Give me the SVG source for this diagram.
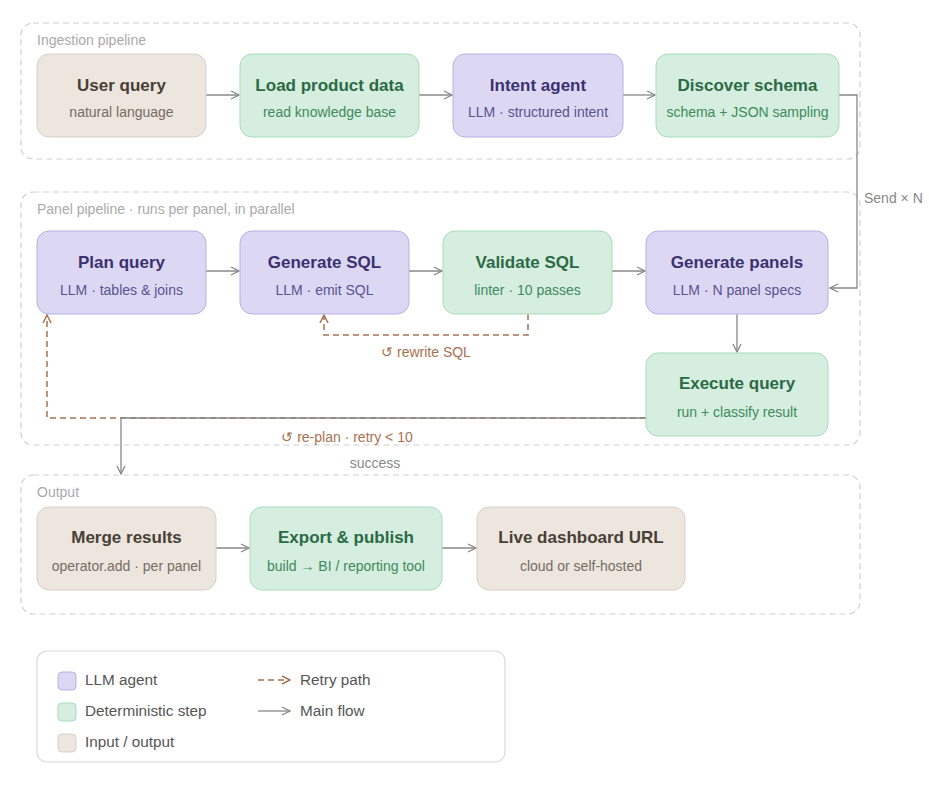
<svg xmlns="http://www.w3.org/2000/svg" width="929" height="795" viewBox="0 0 929 795">
<defs>
<marker id="ah" viewBox="0 0 10 10" refX="9" refY="5" markerWidth="10" markerHeight="10" markerUnits="userSpaceOnUse" orient="auto">
<path d="M1,1 L9,5 L1,9" fill="none" stroke="#888" stroke-width="1.3"/>
</marker>
<marker id="ahr" viewBox="0 0 10 10" refX="9" refY="5" markerWidth="10" markerHeight="10" markerUnits="userSpaceOnUse" orient="auto">
<path d="M1,1 L9,5 L1,9" fill="none" stroke="#a8724f" stroke-width="1.5"/>
</marker>
</defs>
<style>
text{font-family:"Liberation Sans",Arial,sans-serif}
.cl{fill:none;stroke:#d0d0d0;stroke-width:1.2;stroke-dasharray:6 4}
.clt{font-size:14px;fill:#aaa}
.llm rect{fill:#dcd8f4;stroke:#b7b0e6;stroke-width:1}
.llm .t{fill:#3b3170}
.llm .s{fill:#5a5290}
.det rect{fill:#d5eedf;stroke:#a8dcbb;stroke-width:1}
.det .t{fill:#2c6a46}
.det .s{fill:#3f8a5c}
.io rect{fill:#ece6df;stroke:#d8d0c6;stroke-width:1}
.io .t{fill:#4a3f35}
.io .s{fill:#776c62}
.t{font-size:17px;font-weight:bold;text-anchor:middle}
.s{font-size:14px;text-anchor:middle}
.m{fill:none;stroke:#888;stroke-width:1.3}
.r{fill:none;stroke:#a8724f;stroke-width:1.5;stroke-dasharray:6 4}
.lt{font-size:14px;text-anchor:middle}
.lg{font-size:15.3px;fill:#555}
</style>
<rect width="929" height="795" fill="#fff"/>
<g id="clusters">
<rect class="cl" x="21" y="23" width="839" height="136" rx="12"/>
<text class="clt" x="37" y="45">Ingestion pipeline</text>
<rect class="cl" x="21" y="192" width="839" height="253" rx="12"/>
<text class="clt" x="37" y="214">Panel pipeline · runs per panel, in parallel</text>
<rect class="cl" x="21" y="475" width="839" height="139" rx="12"/>
<text class="clt" x="37" y="497">Output</text>
</g>
<g id="connectors">
<path class="m" d="M206,95 H239" marker-end="url(#ah)"/>
<path class="m" d="M419,95 H452" marker-end="url(#ah)"/>
<path class="m" d="M623,95 H655" marker-end="url(#ah)"/>
<path class="m" d="M839,95 H857 V288 H830" marker-end="url(#ah)"/>
<text x="864" y="203" font-size="14" fill="#888">Send × N</text>
<path class="m" d="M206,271 H239" marker-end="url(#ah)"/>
<path class="m" d="M409,271 H442" marker-end="url(#ah)"/>
<path class="m" d="M612,271 H645" marker-end="url(#ah)"/>
<path class="m" d="M737,314 V352" marker-end="url(#ah)"/>
<path class="r" d="M528,314 V335 H324 V315" marker-end="url(#ahr)"/>
<text class="lt" x="426" y="357" fill="#a8724f">↺ rewrite SQL</text>
<path class="r" d="M646,418 H47 V315" marker-end="url(#ahr)"/>
<text class="lt" x="347" y="442" fill="#a8724f">↺ re-plan · retry &lt; 10</text>
<path class="m" d="M646,418 H121 V474" marker-end="url(#ah)"/>
<text class="lt" x="375" y="468" fill="#888">success</text>
<path class="m" d="M216,548 H249" marker-end="url(#ah)"/>
<path class="m" d="M442,548 H476" marker-end="url(#ah)"/>
</g>
<g id="user-query" class="io"><rect x="37" y="54" width="169" height="83" rx="12"/><text class="t" x="121.5" y="91">User query</text><text class="s" x="121.5" y="117">natural language</text></g>
<g id="load-product-data" class="det"><rect x="240" y="54" width="179" height="83" rx="12"/><text class="t" x="329.5" y="91">Load product data</text><text class="s" x="329.5" y="117">read knowledge base</text></g>
<g id="intent-agent" class="llm"><rect x="453" y="54" width="170" height="83" rx="12"/><text class="t" x="538" y="91">Intent agent</text><text class="s" x="538" y="117">LLM · structured intent</text></g>
<g id="discover-schema" class="det"><rect x="656" y="54" width="183" height="83" rx="12"/><text class="t" x="747.5" y="91">Discover schema</text><text class="s" x="747.5" y="117">schema + JSON sampling</text></g>
<g id="plan-query" class="llm"><rect x="37" y="231" width="169" height="83" rx="12"/><text class="t" x="121.5" y="268">Plan query</text><text class="s" x="121.5" y="295">LLM · tables &amp; joins</text></g>
<g id="generate-sql" class="llm"><rect x="240" y="231" width="169" height="83" rx="12"/><text class="t" x="324.5" y="268">Generate SQL</text><text class="s" x="324.5" y="295">LLM · emit SQL</text></g>
<g id="validate-sql" class="det"><rect x="443" y="231" width="169" height="83" rx="12"/><text class="t" x="527.5" y="268">Validate SQL</text><text class="s" x="527.5" y="295">linter · 10 passes</text></g>
<g id="generate-panels" class="llm"><rect x="646" y="231" width="182" height="83" rx="12"/><text class="t" x="737" y="268">Generate panels</text><text class="s" x="737" y="295">LLM · N panel specs</text></g>
<g id="execute-query" class="det"><rect x="646" y="353" width="182" height="83" rx="12"/><text class="t" x="737" y="389">Execute query</text><text class="s" x="737" y="417">run + classify result</text></g>
<g id="merge-results" class="io"><rect x="37" y="507" width="179" height="83" rx="12"/><text class="t" x="126.5" y="543">Merge results</text><text class="s" x="126.5" y="571">operator.add · per panel</text></g>
<g id="export-publish" class="det"><rect x="250" y="507" width="192" height="83" rx="12"/><text class="t" x="346" y="543">Export &amp; publish</text><text class="s" x="346" y="571">build → BI / reporting tool</text></g>
<g id="live-dashboard" class="io"><rect x="477" y="507" width="208" height="83" rx="12"/><text class="t" x="581" y="543">Live dashboard URL</text><text class="s" x="581" y="571">cloud or self-hosted</text></g>
<g id="legend">
<rect x="37" y="651" width="468" height="111" rx="10" fill="#fff" stroke="#d8d8d8" stroke-width="1.2"/>
<rect x="58" y="672" width="18" height="18" rx="4" fill="#dcd8f4" stroke="#b7b0e6"/>
<text class="lg" x="85" y="685">LLM agent</text>
<rect x="58" y="703" width="18" height="18" rx="4" fill="#d5eedf" stroke="#a8dcbb"/>
<text class="lg" x="85" y="716">Deterministic step</text>
<rect x="58" y="734" width="18" height="18" rx="4" fill="#ece6df" stroke="#d8d0c6"/>
<text class="lg" x="85" y="747">Input / output</text>
<path class="r" d="M258,680 H290" stroke-dasharray="5 3" marker-end="url(#ahr)"/>
<text class="lg" x="300" y="685">Retry path</text>
<path class="m" d="M258,711 H290" marker-end="url(#ah)"/>
<text class="lg" x="300" y="716">Main flow</text>
</g>
</svg>
